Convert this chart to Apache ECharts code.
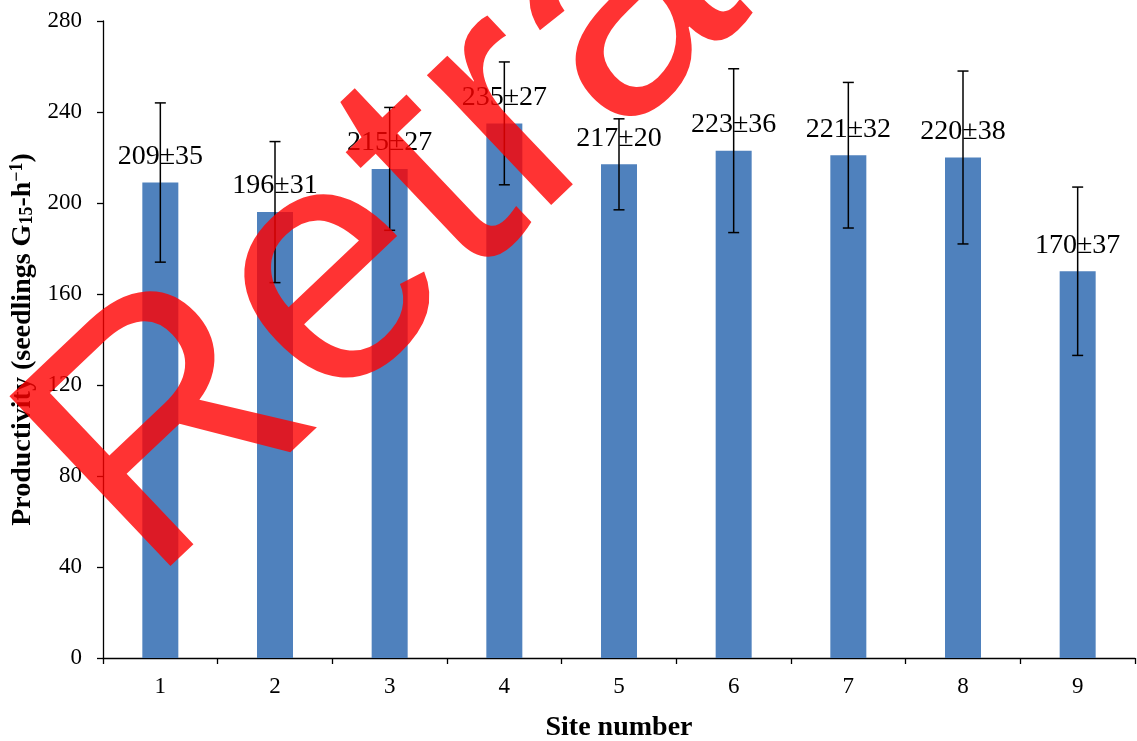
<!DOCTYPE html>
<html>
<head>
<meta charset="utf-8">
<title>Productivity by site</title>
<script src="https://cdn.jsdelivr.net/npm/echarts@6/dist/echarts.min.js"></script>
<style>
  html, body { margin: 0; padding: 0; background: #fff; }
  #chart { width: 1137px; height: 741px; }
</style>
</head>
<body>
<div id="chart"></div>
<script>
// Site labels along the x axis
const sites = ['1', '2', '3', '4', '5', '6', '7', '8', '9'];
// Mean productivity per site (seedlings G15 per hour)
const productivity = [209, 196, 215, 235, 217, 223, 221, 220, 170];
// Standard deviation per site
const stdDev = [35, 31, 27, 27, 20, 36, 32, 38, 37];
// Y axis range and step
const yMin = 0;
const yMax = 280;
const yStep = 40;

const serif = '"Liberation Serif", "Times New Roman", Times, serif';

// [category index, upper bound, lower bound] for each whisker
const errorData = sites.map((s, i) => [i, productivity[i] + stdDev[i], productivity[i] - stdDev[i]]);

const chart = echarts.init(document.getElementById('chart'), null, { renderer: 'canvas' });

chart.setOption({
  animation: false,
  backgroundColor: '#ffffff',
  grid: { left: 103, right: 2, top: 21, bottom: 83, containLabel: false, outerBoundsMode: 'none' },
  xAxis: {
    type: 'category',
    data: sites,
    boundaryGap: true,
    name: 'Site number',
    nameLocation: 'middle',
    nameGap: 56,
    nameTextStyle: { fontFamily: serif, fontWeight: 'bold', fontSize: 28, color: '#000', lineHeight: 28 },
    axisLine: { lineStyle: { color: '#000', width: 1.3 } },
    axisTick: { show: true, length: 6, alignWithLabel: false, lineStyle: { color: '#000', width: 1.3 } },
    axisLabel: { fontFamily: serif, fontSize: 23, color: '#000', margin: 17, lineHeight: 23 },
    splitLine: { show: false }
  },
  yAxis: {
    type: 'value',
    min: yMin,
    max: yMax,
    interval: yStep,
    name: '{a|Productivity (seedlings G}{sub|15}{a|-h}{sup|\u22121}{a|)}',
    nameLocation: 'middle',
    nameRotate: 90,
    nameGap: 61,
    nameTextStyle: {
      fontFamily: serif, fontWeight: 'bold', fontSize: 28, color: '#000', lineHeight: 28,
      rich: {
        a: { fontFamily: serif, fontWeight: 'bold', fontSize: 28, color: '#000', lineHeight: 28 },
        sub: { fontFamily: serif, fontWeight: 'bold', fontSize: 18, color: '#000', lineHeight: 16, verticalAlign: 'bottom' },
        sup: { fontFamily: serif, fontWeight: 'bold', fontSize: 18, color: '#000', lineHeight: 12, verticalAlign: 'top' }
      }
    },
    axisLine: { show: true, lineStyle: { color: '#000', width: 1.3 } },
    axisTick: { show: true, length: 6, lineStyle: { color: '#000', width: 1.3 } },
    axisLabel: { fontFamily: serif, fontSize: 23, color: '#000', margin: 21 },
    splitLine: { show: false }
  },
  series: [
    {
      name: 'Productivity',
      type: 'bar',
      data: productivity,
      barWidth: 36,
      itemStyle: { color: '#4F81BD' },
      label: {
        show: true,
        position: 'top',
        distance: 12,
        fontFamily: serif,
        fontSize: 28,
        lineHeight: 28,
        color: '#000',
        formatter: (p) => productivity[p.dataIndex] + '\u00B1' + stdDev[p.dataIndex]
      },
      z: 2
    },
    {
      name: 'SD',
      type: 'custom',
      data: errorData,
      encode: { x: 0, y: [1, 2] },
      z: 3,
      renderItem: (params, api) => {
        const idx = api.value(0);
        const hi = api.coord([idx, api.value(1)]);
        const lo = api.coord([idx, api.value(2)]);
        const half = 5.5;
        const st = { stroke: '#000', lineWidth: 1.5 };
        return {
          type: 'group',
          children: [
            { type: 'line', shape: { x1: hi[0], y1: hi[1], x2: lo[0], y2: lo[1] }, style: st },
            { type: 'line', shape: { x1: hi[0] - half, y1: hi[1], x2: hi[0] + half, y2: hi[1] }, style: st },
            { type: 'line', shape: { x1: lo[0] - half, y1: lo[1], x2: lo[0] + half, y2: lo[1] }, style: st }
          ]
        };
      }
    }
  ],
  graphic: [
    {
      // diagonal "Retracted" stamp laid over the whole plot
      type: 'text',
      x: 149,
      y: 584,
      rotation: 0.759,
      z: 100,
      silent: true,
      style: {
        text: 'Retracted',
        x: 0,
        y: -92,
        font: '340px "Liberation Sans", Arial, Helvetica, sans-serif',
        fill: 'rgba(255, 0, 0, 0.8)',
        textAlign: 'left',
        textVerticalAlign: 'middle',
        align: 'left',
        verticalAlign: 'middle'
      }
    }
  ]
});
</script>
</body>
</html>
